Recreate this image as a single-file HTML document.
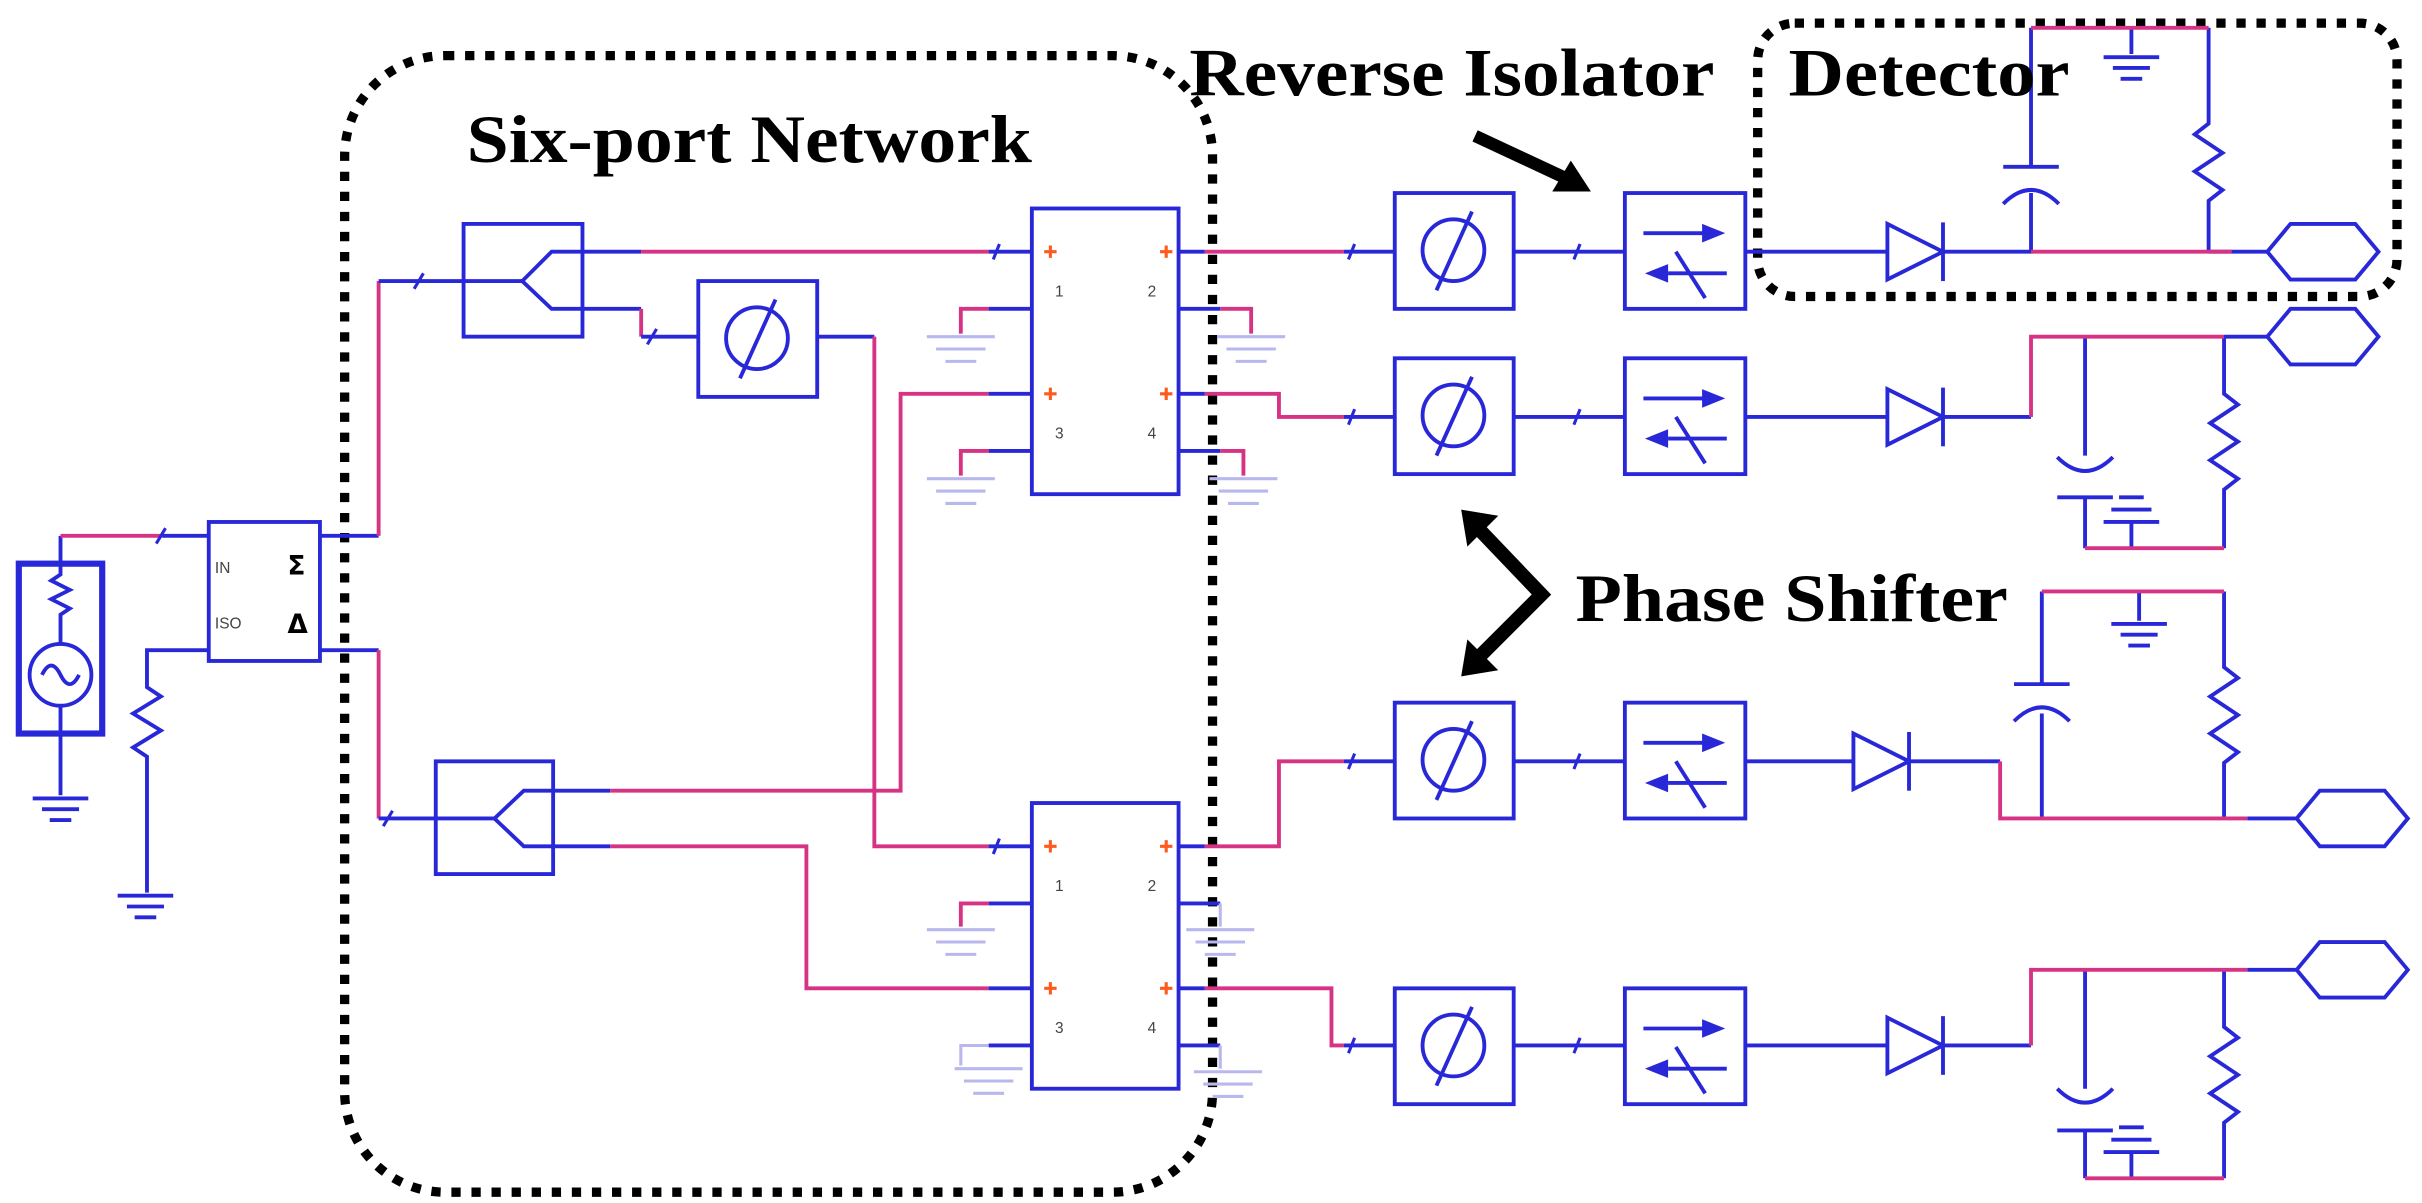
<!DOCTYPE html>
<html><head><style>html,body{margin:0;padding:0;background:#fff}svg{display:block}</style></head>
<body>
<svg width="2422" height="1203" viewBox="0 0 1568 779" xmlns="http://www.w3.org/2000/svg">
<defs>
<g id="ph"><rect x="0" y="0" width="77" height="75" fill="none" stroke="#2828d8" stroke-width="2.5"/><circle cx="38" cy="37" r="20" fill="none" stroke="#2828d8" stroke-width="2.5"/><line x1="27" y1="63" x2="50" y2="12" stroke="#2828d8" stroke-width="2.5"/></g>
<g id="iso"><rect x="0" y="0" width="78" height="75" fill="none" stroke="#2828d8" stroke-width="2.5"/><line x1="12" y1="26" x2="52" y2="26" stroke="#2828d8" stroke-width="2.5"/><polygon points="50,20 65,26 50,32" fill="#2828d8"/><line x1="28" y1="52" x2="66" y2="52" stroke="#2828d8" stroke-width="2.5"/><polygon points="28,46 13,52 28,58" fill="#2828d8"/><line x1="33" y1="38" x2="52" y2="68" stroke="#2828d8" stroke-width="2.5"/></g>
<g id="di"><polygon points="0,-18 0,18 36,0" fill="none" stroke="#2828d8" stroke-width="2.5"/><line x1="36" y1="-19" x2="36" y2="19" stroke="#2828d8" stroke-width="2.5"/></g>
<g id="hex"><polygon points="0,0 15,-18 57,-18 72,0 57,18 15,18" fill="none" stroke="#2828d8" stroke-width="2.5"/></g>
<g id="gnd" stroke="#2828d8" stroke-width="2.5"><line x1="-18" y1="0" x2="18" y2="0"/><line x1="-12" y1="7" x2="12" y2="7"/><line x1="-7" y1="14" x2="7" y2="14"/></g>
<g id="lg" stroke="#b8b8ee" stroke-width="2"><line x1="-22" y1="0" x2="22" y2="0"/><line x1="-16" y1="8" x2="16" y2="8"/><line x1="-10" y1="16" x2="10" y2="16"/></g>
</defs>
<g fill="none" stroke-width="2.5" stroke-linejoin="miter">
<rect x="223" y="36" width="562" height="736" rx="65" stroke="#000" stroke-width="6" stroke-dasharray="6 7"/>
<rect x="1138" y="15" width="414" height="177" rx="24" stroke="#000" stroke-width="6" stroke-dasharray="6 7"/>

<rect x="12" y="365" width="54" height="110" stroke="#2828d8" stroke-width="4"/>
<circle cx="39" cy="437" r="20" stroke="#2828d8"/>
<path d="M27,437 q6,-12 12,0 q6,12 12,0" stroke="#2828d8"/>
<path d="M39,347 V372 l-6,4 12,6 -12,6 12,6 -6,4 V417 M39,457 V515" stroke="#2828d8"/>
<path d="M39,347 H105" stroke="#d63384"/><path d="M105,347 H135" stroke="#2828d8"/>
<use href="#gnd" x="39" y="517"/>
<rect x="135" y="338" width="72" height="90" stroke="#2828d8"/>
<path d="M135,421 H95 V445 l9,6 -18,11 18,11 -18,11 9,6 V578" stroke="#2828d8"/>
<use href="#gnd" x="94" y="580"/>
<path d="M207,347 H245 M207,421 H245" stroke="#2828d8"/>
<path d="M245,347 V182 M245,421 V530" stroke="#d63384"/>
<path d="M245,182 H338 M245,530 H320" stroke="#2828d8"/>

<rect x="300" y="145" width="77" height="73" stroke="#2828d8"/>
<path d="M338,182 L357,163 H415 M338,182 L357,200 H415" stroke="#2828d8"/>
<path d="M415,163 H640" stroke="#d63384"/><path d="M640,163 H668" stroke="#2828d8"/>
<path d="M415,200 V218" stroke="#d63384"/><path d="M415,218 H452" stroke="#2828d8"/>
<use href="#ph" x="452" y="182"/>
<path d="M529,218 H566" stroke="#2828d8"/>
<path d="M566,218 V548 H640" stroke="#d63384"/><path d="M640,548 H668" stroke="#2828d8"/>

<rect x="282" y="493" width="76" height="73" stroke="#2828d8"/>
<path d="M320,530 L339,512 H395 M320,530 L339,548 H395" stroke="#2828d8"/>
<path d="M395,512 H583 V255 H640" stroke="#d63384"/><path d="M640,255 H668" stroke="#2828d8"/>
<path d="M395,548 H522 V640 H640" stroke="#d63384"/><path d="M640,640 H668" stroke="#2828d8"/>

<rect x="668" y="135" width="95" height="185" stroke="#2828d8"/>
<rect x="668" y="520" width="95" height="185" stroke="#2828d8"/>
<path d="M668,200 H640 M668,292 H640 M668,585 H640 M668,677 H640" stroke="#2828d8"/>
<path d="M640,200 H622 V216 M640,292 H622 V308 M640,585 H622 V600" stroke="#d63384"/>
<path d="M640,677 H622 V690" stroke="#b8b8ee" stroke-width="2"/>
<use href="#lg" x="622" y="218"/><use href="#lg" x="622" y="310"/><use href="#lg" x="622" y="602"/><use href="#lg" x="640" y="692"/>
<path d="M763,200 H790 M763,292 H790 M763,585 H790 M763,677 H790" stroke="#2828d8"/>
<path d="M790,200 H810 V216 M790,292 H805 V308" stroke="#d63384"/>
<path d="M790,585 V600 M790,677 V692" stroke="#b8b8ee" stroke-width="2"/>
<use href="#lg" x="810" y="218"/><use href="#lg" x="805" y="310"/><use href="#lg" x="790" y="602"/><use href="#lg" x="795" y="694"/>
<path d="M763,163 H780 M763,255 H780 M763,548 H780 M763,640 H780" stroke="#2828d8"/>
<path d="M780,163 H870 M780,255 H828 V270 H870 M780,548 H828 V493 H870 M780,640 H862 V677 H870" stroke="#d63384"/>
<path d="M870,163 H903 M870,270 H903 M870,493 H903 M870,677 H903" stroke="#2828d8"/>

<use href="#ph" x="903" y="125"/><use href="#ph" x="903" y="232"/><use href="#ph" x="903" y="455"/><use href="#ph" x="903" y="640"/>
<path d="M980,163 H1052 M980,270 H1052 M980,493 H1052 M980,677 H1052" stroke="#2828d8"/>
<use href="#iso" x="1052" y="125"/><use href="#iso" x="1052" y="232"/><use href="#iso" x="1052" y="455"/><use href="#iso" x="1052" y="640"/>
<path d="M1130,163 H1222 M1130,270 H1222 M1130,493 H1200 M1130,677 H1222" stroke="#2828d8"/>
<use href="#di" x="1222" y="163"/><use href="#di" x="1222" y="270"/><use href="#di" x="1200" y="493"/><use href="#di" x="1222" y="677"/>

<path d="M1258,163 H1315 V125 M1315,108 V18 M1430,18 V80 l-9,7 18,12 -18,12 18,12 -9,7 V163 M1430,163 H1468 M1380,18 V35" stroke="#2828d8"/>
<path d="M1297,108 H1333 M1297,132 q18,-18 36,0" stroke="#2828d8"/>
<use href="#gnd" x="1380" y="37"/>
<path d="M1315,18 H1430 M1315,163 H1445" stroke="#d63384"/>
<use href="#hex" x="1468" y="163"/>

<path d="M1258,270 H1315 M1350,218 V295 M1350,322 V355 M1440,218 V255 l9,7 -18,12 18,12 -18,12 18,12 -9,7 V355 M1440,218 H1468 M1380,355 V338" stroke="#2828d8"/>
<path d="M1332,296 q18,18 36,0 M1332,322 H1368" stroke="#2828d8"/>
<path d="M1362,338 H1398 M1367,330 H1393 M1372,322 H1388" stroke="#2828d8"/>
<path d="M1315,270 V218 H1440 M1350,355 H1440" stroke="#d63384"/>
<use href="#hex" x="1468" y="218"/>

<path d="M1236,493 H1295 M1322,383 V443 M1322,462 V530 M1440,383 V432 l9,7 -18,12 18,12 -18,12 18,12 -9,7 V530 M1455,530 H1487 M1385,383 V402" stroke="#2828d8"/>
<path d="M1304,443 H1340 M1304,467 q18,-18 36,0" stroke="#2828d8"/>
<use href="#gnd" x="1385" y="404"/>
<path d="M1295,493 V530 H1455 M1322,383 H1440" stroke="#d63384"/>
<use href="#hex" x="1487" y="530"/>

<path d="M1258,677 H1315 M1350,628 V705 M1350,732 V763 M1440,628 V665 l9,7 -18,12 18,12 -18,12 18,12 -9,7 V763 M1455,628 H1487 M1380,763 V746" stroke="#2828d8"/>
<path d="M1332,705 q18,18 36,0 M1332,732 H1368" stroke="#2828d8"/>
<path d="M1362,746 H1398 M1367,738 H1393 M1372,730 H1388" stroke="#2828d8"/>
<path d="M1315,677 V628 H1455 M1350,763 H1440" stroke="#d63384"/>
<use href="#hex" x="1487" y="628"/>

<path d="M101,352 l6,-10 M268,187 l6,-10 M248,535 l6,-10 M419,223 l6,-10 M643,168 l4,-10 M643,553 l4,-10 M873,168 l4,-10 M873,275 l4,-10 M873,498 l4,-10 M873,682 l4,-10 M1019,168 l4,-10 M1019,275 l4,-10 M1019,498 l4,-10 M1019,682 l4,-10" stroke="#2828d8" stroke-width="2"/>
<g stroke="#ff5a1e" stroke-width="2"><path d="M676,163 h8 M680,159 v8 M751,163 h8 M755,159 v8 M676,255 h8 M680,251 v8 M751,255 h8 M755,251 v8 M676,548 h8 M680,544 v8 M751,548 h8 M755,544 v8 M676,640 h8 M680,636 v8 M751,640 h8 M755,636 v8"/></g>

<line x1="955" y1="88" x2="1015" y2="116" stroke="#000" stroke-width="8"/>
<polygon points="1030,124 1005,124 1017,104" fill="#000" stroke="none"/>
<polyline points="955,340 998,385 955,428" stroke="#000" stroke-width="9"/>
<polygon points="946,330 970,334 950,354" fill="#000" stroke="none"/>
<polygon points="946,438 950,414 970,434" fill="#000" stroke="none"/>
</g>
<g font-family="Liberation Serif, serif" font-weight="bold" font-size="44" fill="#000">
<text x="302" y="105" textLength="366" lengthAdjust="spacingAndGlyphs">Six-port Network</text>
<text x="770" y="62" textLength="340" lengthAdjust="spacingAndGlyphs">Reverse Isolator</text>
<text x="1158" y="62" textLength="182" lengthAdjust="spacingAndGlyphs">Detector</text>
<text x="1020" y="402" textLength="280" lengthAdjust="spacingAndGlyphs">Phase Shifter</text>
</g>
<g font-family="Liberation Sans, sans-serif" font-size="10" fill="#444">
<text x="139" y="371">IN</text><text x="139" y="407">ISO</text>
<text x="683" y="192">1</text><text x="743" y="192">2</text><text x="683" y="284">3</text><text x="743" y="284">4</text>
<text x="683" y="577">1</text><text x="743" y="577">2</text><text x="683" y="669">3</text><text x="743" y="669">4</text>
</g>
<g font-family="DejaVu Sans, sans-serif" font-size="17" font-weight="bold" fill="#000">
<text x="186" y="372">Σ</text><text x="186" y="410">Δ</text>
</g>
</svg>
</body></html>
